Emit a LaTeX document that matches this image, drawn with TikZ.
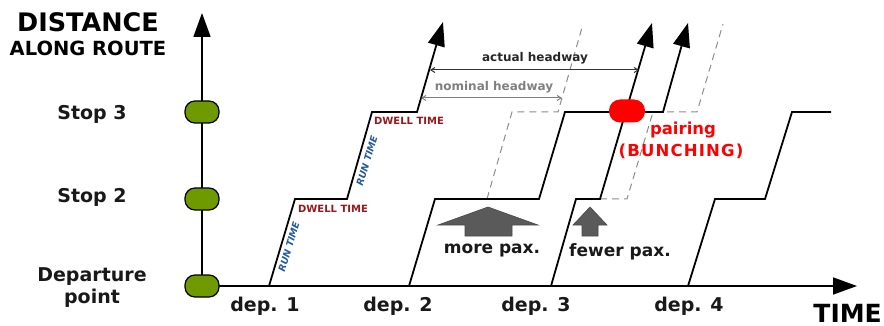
\documentclass[tikz,border=0pt]{standalone}
\usepackage{fontspec}
\setmainfont{DejaVu Sans}
\usetikzlibrary{arrows.meta}
\definecolor{stopgreen}{RGB}{110,154,0}
\definecolor{dwellred}{RGB}{150,25,30}
\definecolor{runblue}{RGB}{35,90,160}
\definecolor{paxgray}{RGB}{90,90,90}
\definecolor{ghost}{RGB}{140,140,140}
\newcommand\fsz[1]{\fontsize{#1}{#1}\selectfont}
\begin{document}
\begin{tikzpicture}[x=1pt,y=-1pt,
  axis/.style={line width=1.8pt,-{Triangle[length=24pt,width=17pt]}},
  trip/.style={line width=1.8pt,line join=miter},
  tripend/.style={trip,-{Triangle[length=24pt,width=17pt]}},
  ghostline/.style={ghost,line width=1pt,dash pattern=on 7pt off 5pt},
  stopmark/.style={draw=black,line width=1.2pt,fill=stopgreen,minimum width=34pt,minimum height=22pt,rounded corners=10pt,inner sep=0pt},
  bunch/.style={fill=red,minimum width=36pt,minimum height=23pt,rounded corners=11pt,inner sep=0pt},
  lbl/.style={font=\bfseries\fsz{19},text=black!90,inner sep=0pt},
  dwell/.style={font=\bfseries\fsz{10},text=dwellred,inner sep=0pt},
  run/.style={font=\bfseries\itshape\fsz{9.5},text=runblue,inner sep=0pt,rotate=73.3},
  hw/.style={line width=1pt,{Straight Barb[length=4pt,width=5pt]}-{Straight Barb[length=4pt,width=5pt]}},
  paxarrow/.style={fill=paxgray,draw=paxgray!80!black,line width=0.6pt},
]
\useasboundingbox (0,0) rectangle (884,326);

% axes
\coordinate (origin) at (202,286);
\coordinate (ytop) at (202,13);
\coordinate (xend) at (857,286);
\draw[axis] (origin) -- (ytop);
\draw[axis] (origin) -- (xend);

% axis titles
\node[font=\bfseries\fsz{25.5},inner sep=0pt] (dist) at (88,22) {DISTANCE};
\node[font=\bfseries\fsz{19.5},inner sep=0pt] (along) at (88,48) {ALONG ROUTE};
\node[font=\bfseries\fsz{25},inner sep=0pt,anchor=east] (time) at (882,313) {TIME};

% stops on the distance axis
\node[stopmark] (s3) at (202,112) {};
\node[stopmark] (s2) at (202,199) {};
\node[stopmark] (s1) at (202,286) {};
\node[lbl] (s3l) at (92,114) {Stop 3};
\node[lbl] (s2l) at (92,197) {Stop 2};
\node[lbl] (s1a) at (92,277) {Departure};
\node[lbl] (s1b) at (92,298) {point};

% departure labels
\node[lbl] (d1) at (265,306) {dep. 1};
\node[lbl] (d2) at (398,306) {dep. 2};
\node[lbl] (d3) at (536,306) {dep. 3};
\node[lbl] (d4) at (689,306) {dep. 4};

% scheduled (dashed) trajectories
\coordinate (g1a) at (487,199);
\coordinate (g1b) at (512,112);
\coordinate (g1c) at (558,112);
\coordinate (g1d) at (583,24);
\draw[ghostline] (g1a) -- (g1b) -- (g1c) -- (g1d);
\coordinate (g2a) at (600,199);
\coordinate (g2b) at (627,199);
\coordinate (g2c) at (653,112);
\coordinate (g2d) at (697,112);
\coordinate (g2e) at (723,24);
\draw[ghostline] (g2a) -- (g2b) -- (g2c) -- (g2d) -- (g2e);

% trip 1
\coordinate (a0) at (269,286);
\coordinate (a1) at (295,199);
\coordinate (a2) at (347,199);
\coordinate (a3) at (372,112);
\coordinate (a4) at (417,112);
\coordinate (a5) at (443,22);
\draw[tripend] (a0) -- (a1) -- (a2) -- (a3) -- (a4) -- (a5);

% trip 2
\coordinate (b0) at (409,286);
\coordinate (b1) at (435,199);
\coordinate (b2) at (539,199);
\coordinate (b3) at (565,112);
\coordinate (b4) at (663,112);
\coordinate (b5) at (688,23);
\draw[tripend] (b0) -- (b1) -- (b2) -- (b3) -- (b4) -- (b5);

% trip 3
\coordinate (c0) at (551,286);
\coordinate (c1) at (576,199);
\coordinate (c2) at (600,199);
\coordinate (c3) at (652,23);
\draw[tripend] (c0) -- (c1) -- (c2) -- (c3);

% trip 4
\coordinate (e0) at (688,286);
\coordinate (e1) at (715,199);
\coordinate (e2) at (765,199);
\coordinate (e3) at (792,112);
\coordinate (e4) at (831,112);
\draw[trip] (e0) -- (e1) -- (e2) -- (e3) -- (e4);

% run and dwell annotations
\node[run] (r1) at (289,247) {RUN TIME};
\node[run] (r2) at (367,161) {RUN TIME};
\node[dwell] (w1) at (333,209) {DWELL TIME};
\node[dwell] (w2) at (409,121) {DWELL TIME};

% headways
\coordinate (ha1) at (430,70);
\coordinate (ha2) at (639,70);
\draw[hw,black!80] (ha1) -- (ha2);
\node[font=\bfseries\fsz{12},text=black!85,inner sep=0pt] (hwa) at (535,58) {actual headway};
\coordinate (hn1) at (421,98);
\coordinate (hn2) at (562,98);
\draw[hw,gray] (hn1) -- (hn2);
\node[font=\bfseries\fsz{12},text=gray,inner sep=0pt] (hwn) at (494,87) {nominal headway};

% bunching point
\node[bunch] (pair) at (627,111) {};
\node[font=\bfseries\fsz{16.5},text=red,inner sep=0pt] (pl1) at (683,130) {pairing};
\node[font=\bfseries\fsz{16.5},text=red,inner sep=0pt] (pl2) at (681,151) {\addfontfeature{LetterSpace=7}(BUNCHING)};

% passenger load arrows
\draw[paxarrow] (488,207) -- (538,225) -- (512,225) -- (512,236) -- (465,236) -- (465,225) -- (438,225) -- cycle;
\draw[paxarrow] (590,207) -- (607,225) -- (598,225) -- (598,236) -- (582,236) -- (582,225) -- (573,225) -- cycle;
\node[font=\bfseries\fsz{17},text=black!90,inner sep=0pt] (more) at (492,251) {more pax.};
\node[font=\bfseries\fsz{17},text=black!90,inner sep=0pt] (fewer) at (620,252) {fewer pax.};
\end{tikzpicture}
\end{document}
